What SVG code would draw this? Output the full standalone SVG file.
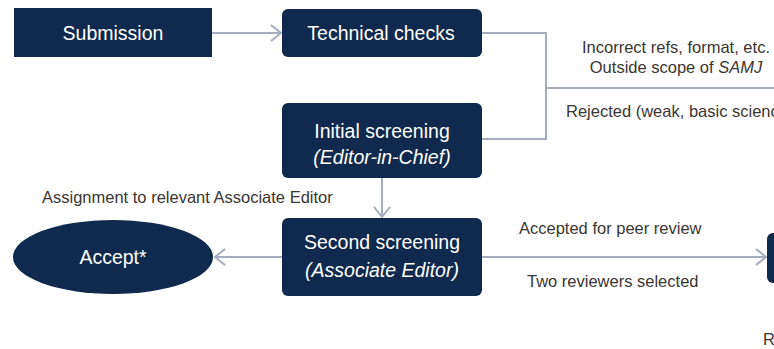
<svg xmlns="http://www.w3.org/2000/svg" width="774" height="349" viewBox="0 0 774 349">
<defs>
<style>
.node{fill:#0f2a4e}
.nt{fill:#ffffff;font-family:"Liberation Sans",Arial,sans-serif;font-size:19.5px;text-anchor:middle}
.it{font-style:italic}
.lbl{fill:#3a3632;font-family:"Liberation Sans",Arial,sans-serif;font-size:16.5px}
.edge{fill:none;stroke:#a3adbd;stroke-width:2}
</style>
<marker id="ah" markerUnits="userSpaceOnUse" markerWidth="14" markerHeight="18" refX="11" refY="9" orient="auto">
<path d="M1,1 L11,9 L1,17" fill="none" stroke="#a3adbd" stroke-width="2"/>
</marker>
</defs>
<rect width="774" height="349" fill="#ffffff"/>
<g id="connectors">
<line class="edge" x1="212" y1="33" x2="281" y2="33" marker-end="url(#ah)"/>
<polyline class="edge" points="482,33 546,33 546,139 482,139"/>
<line class="edge" x1="546" y1="88" x2="774" y2="88"/>
<line class="edge" x1="382" y1="178" x2="382" y2="217" marker-end="url(#ah)"/>
<line class="edge" x1="282" y1="257" x2="215" y2="257" marker-end="url(#ah)"/>
<line class="edge" x1="482" y1="257" x2="766" y2="257" marker-end="url(#ah)"/>
</g>
<g id="submission">
<rect class="node" x="14" y="8" width="198" height="49"/>
<text class="nt" x="113" y="40">Submission</text>
</g>
<g id="technical-checks">
<rect class="node" x="282" y="9" width="200" height="48" rx="6"/>
<text class="nt" x="381" y="40">Technical checks</text>
</g>
<g id="initial-screening">
<rect class="node" x="282" y="103" width="200" height="75" rx="6"/>
<text class="nt" x="382" y="138">Initial screening</text>
<text class="nt it" x="382" y="164">(Editor-in-Chief)</text>
</g>
<g id="second-screening">
<rect class="node" x="282" y="218" width="200" height="78" rx="6"/>
<text class="nt" x="382" y="249">Second screening</text>
<text class="nt it" x="382" y="277">(Associate Editor)</text>
</g>
<g id="accept">
<ellipse class="node" cx="113" cy="257" rx="100" ry="37"/>
<text class="nt" x="113" y="264">Accept*</text>
</g>
<g id="peer-review">
<rect class="node" x="767" y="233" width="20" height="50" rx="6"/>
</g>
<g id="labels">
<text class="lbl" x="676" y="53" text-anchor="middle">Incorrect refs, format, etc.</text>
<text class="lbl" x="676" y="73" text-anchor="middle">Outside scope of <tspan class="it">SAMJ</tspan></text>
<text class="lbl" x="566" y="117">Rejected (weak, basic science</text>
<text class="lbl" x="42" y="203">Assignment to relevant Associate Editor</text>
<text class="lbl" x="519" y="234">Accepted for peer review</text>
<text class="lbl" x="527" y="287">Two reviewers selected</text>
<text class="lbl" x="763" y="345">R</text>
</g>
</svg>
